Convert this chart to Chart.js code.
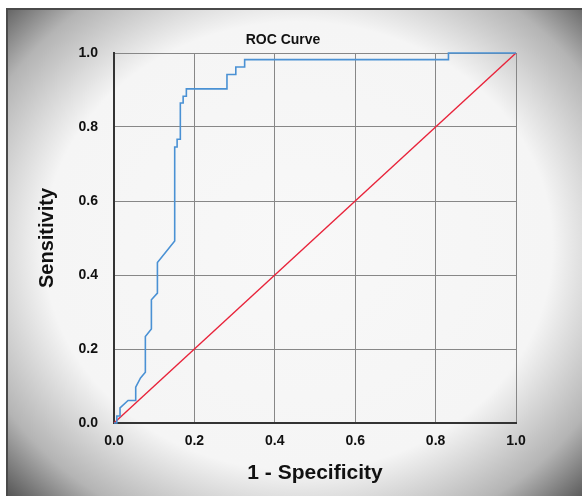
<!DOCTYPE html>
<html>
<head>
<meta charset="utf-8">
<script src="https://cdn.jsdelivr.net/npm/chart.js@4.4.0/dist/chart.umd.min.js"></script>
<style>
  html, body { margin: 0; padding: 0; background: #ffffff; }
  #wrap { position: relative; width: 582px; height: 496px; overflow: hidden; }
  #frame {
    position: absolute; left: 6px; top: 8px; width: 580px; height: 492px;
    border-top: 2px solid #4a4a4a; border-left: 2px solid #4a4a4a;
    background: radial-gradient(ellipse farthest-corner at 50% 48%, #f8f8f8 0%, #f5f5f5 62%, #b4b4b4 84%, #4f4f4f 100%);
  }
  #cht { position: absolute; left: 0; top: 0; }
</style>
</head>
<body>
<div id="wrap">
  <div id="frame"></div>
  <canvas id="cht" width="582" height="496"></canvas>
</div>
<script>
// values
const fpr = [0, 0.007, 0.007, 0.015, 0.015, 0.035, 0.054, 0.054, 0.066, 0.078, 0.078, 0.093, 0.093, 0.108, 0.108,
             0.151, 0.151, 0.157, 0.157, 0.165, 0.165, 0.172, 0.172, 0.180, 0.180, 0.281, 0.281, 0.303, 0.303,
             0.325, 0.325, 0.832, 0.832, 1.0];
const tpr = [0, 0, 0.019, 0.019, 0.041, 0.061, 0.061, 0.097, 0.122, 0.137, 0.234, 0.254, 0.333, 0.351, 0.434,
             0.492, 0.746, 0.746, 0.767, 0.767, 0.865, 0.865, 0.883, 0.883, 0.903, 0.903, 0.942, 0.942, 0.962,
             0.962, 0.982, 0.982, 1.0, 1.0];
const refLine = [0, 1];
const tickValues = [0, 0.2, 0.4, 0.6, 0.8, 1.0];
const chartTitle = "ROC Curve";

const rocPoints = fpr.map((x, i) => ({ x: x, y: tpr[i] }));
const diagPoints = refLine.map(v => ({ x: v, y: v }));

const boldFont = "'Liberation Sans', Arial, sans-serif";

// title sits a bit right of the canvas centre, so draw it ourselves
const titlePlugin = {
  id: "rocTitle",
  afterDraw(chart) {
    const ctx = chart.ctx;
    ctx.save();
    ctx.font = "bold 14px " + boldFont;
    ctx.fillStyle = "#111";
    ctx.textAlign = "center";
    ctx.textBaseline = "middle";
    ctx.fillText(chartTitle, 283, 40);
    ctx.restore();
  }
};

const cht = document.getElementById("cht");
const chart = new Chart(cht, {
  type: "scatter",
  data: {
    datasets: [
      {
        label: "ROC",
        data: rocPoints,
        showLine: true,
        borderColor: "#4a91d4",
        borderWidth: 1.6,
        pointRadius: 0,
        tension: 0,
        clip: 4
      },
      {
        label: "Reference",
        data: diagPoints,
        showLine: true,
        borderColor: "#e8233a",
        borderWidth: 1.4,
        pointRadius: 0,
        clip: 4
      }
    ]
  },
  plugins: [titlePlugin],
  options: {
    responsive: false,
    animation: false,
    layout: { padding: { left: 0, right: 66, top: 53, bottom: 0 } },
    plugins: {
      legend: { display: false },
      tooltip: { enabled: false },
      title: { display: false }
    },
    scales: {
      x: {
        type: "linear",
        min: 0, max: 1,
        afterBuildTicks: s => { s.ticks = tickValues.map(v => ({ value: v })); },
        afterFit: s => { s.height = 73; },
        grid: { color: "#878787", lineWidth: 1, drawTicks: false },
        border: { color: "#333", width: 2 },
        ticks: {
          padding: 10,
          color: "#111",
          font: { family: boldFont, size: 14, weight: "bold" },
          callback: v => v.toFixed(1)
        },
        title: {
          display: true,
          text: "1 - Specificity",
          color: "#111",
          font: { family: boldFont, size: 21, weight: "bold" },
          padding: { top: 6, bottom: 10 }
        }
      },
      y: {
        type: "linear",
        min: 0, max: 1,
        afterBuildTicks: s => { s.ticks = tickValues.map(v => ({ value: v })); },
        afterFit: s => { s.width = 114; },
        grid: { color: "#878787", lineWidth: 1, drawTicks: false },
        border: { color: "#333", width: 2 },
        ticks: {
          padding: 16,
          color: "#111",
          font: { family: boldFont, size: 14, weight: "bold" },
          callback: v => v.toFixed(1)
        },
        title: {
          display: true,
          text: "Sensitivity",
          color: "#111",
          font: { family: boldFont, size: 20, weight: "bold" },
          padding: { top: 35, bottom: 0 }
        }
      }
    }
  }
});
</script>
</body>
</html>
